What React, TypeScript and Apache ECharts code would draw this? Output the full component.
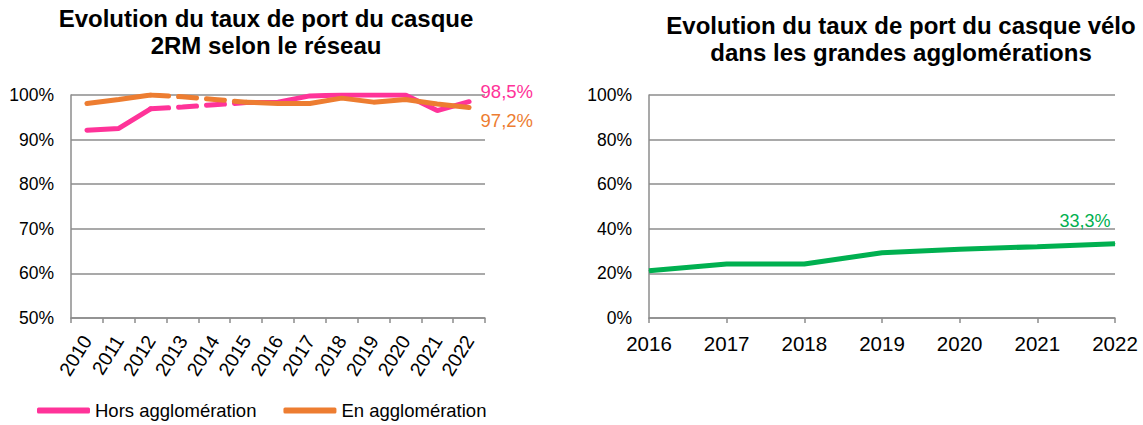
import React, { useEffect, useRef } from "react";
import * as echarts from "echarts";

const yearsLeft = ["2010","2011","2012","2013","2014","2015","2016","2017","2018","2019","2020","2021","2022"];
const horsAgglo = [92.1, 92.5, 96.9, 97.3, 97.8, 98.3, 98.4, 99.8, 100, 100, 100, 96.5, 98.5];
const enAgglo = [98.1, 99.0, 100, 99.6, 99.0, 98.4, 98.1, 98.1, 99.3, 98.4, 99.0, 98.0, 97.2];
const dashedFrom = 2; // 2012
const dashedTo = 5;   // 2015

const yearsRight = ["2016","2017","2018","2019","2020","2021","2022"];
const veloAgglo = [21.2, 24.2, 24.2, 29.3, 30.8, 32.0, 33.3];

const PINK = "#FF3399";
const ORANGE = "#ED7D31";
const GREEN = "#00B050";
const GRID = "#8C8C8C";
const FONT = "Liberation Sans, Arial, sans-serif";

function solidPart(v: number[]) {
  return v.map((x, i) => (i > dashedFrom && i < dashedTo ? null : x));
}
function dashedPart(v: number[]) {
  return v.map((x, i) => (i >= dashedFrom && i <= dashedTo ? x : null));
}
function withLastLabel(v: (number | null)[], label: any) {
  return v.map((x, i) => (i === v.length - 1 ? { value: x, label } : x));
}
const fmt = (n: number) => n.toFixed(1).replace(".", ",") + "%";

export default function App() {
  const ref = useRef<HTMLDivElement>(null);
  useEffect(() => {
    document.body.style.margin = "0";
    const chart = echarts.init(ref.current!, null, { renderer: "svg" });
    const axisLabel = { color: "#000", fontFamily: FONT, fontSize: 17.5 };
    const titleStyle = { fontSize: 24, fontWeight: "bold", color: "#000", lineHeight: 27, fontFamily: FONT };
    chart.setOption({
      animation: false,
      backgroundColor: "#fff",
      textStyle: { fontFamily: FONT },
      title: [
        {
          text: "Evolution du taux de port du casque\n2RM selon le réseau",
          left: 261, top: 0, textAlign: "center", textStyle: titleStyle,
        },
        {
          text: "Evolution du taux de port du casque vélo\ndans les grandes agglomérations",
          left: 896, top: 7, textAlign: "center", textStyle: titleStyle,
        },
      ],
      legend: {
        left: 37, top: 401, padding: 0,
        icon: "roundRect", itemWidth: 53, itemHeight: 6, itemGap: 27,
        textStyle: { fontSize: 18.5, color: "#000", fontFamily: FONT },
        data: ["Hors agglomération", "En agglomération"],
      },
      grid: [
        { left: 71, top: 95, width: 414, height: 223 },
        { left: 649, top: 95, width: 466, height: 223 },
      ],
      xAxis: [
        {
          gridIndex: 0, type: "category", data: yearsLeft, boundaryGap: true,
          axisLine: { lineStyle: { color: GRID, width: 1.5 } },
          axisTick: { show: true, length: 5, lineStyle: { color: GRID, width: 1.5 } },
          axisLabel: { ...axisLabel, fontSize: 19.5, rotate: 58, margin: 19, interval: 0 },
        },
        {
          gridIndex: 1, type: "category", data: yearsRight, boundaryGap: false,
          axisLine: { lineStyle: { color: GRID, width: 1.5 } },
          axisTick: { show: true, length: 5, lineStyle: { color: GRID, width: 1.5 } },
          axisLabel: { ...axisLabel, fontSize: 20.5, margin: 15, interval: 0 },
        },
      ],
      yAxis: [
        {
          gridIndex: 0, type: "value", min: 50, max: 100, interval: 10,
          axisLine: { show: true, lineStyle: { color: GRID, width: 1.5 } },
          axisTick: { show: false },
          splitLine: { lineStyle: { color: GRID, width: 1.5 } },
          axisLabel: { ...axisLabel, margin: 17, formatter: "{value}%" },
        },
        {
          gridIndex: 1, type: "value", min: 0, max: 100, interval: 20,
          axisLine: { show: true, lineStyle: { color: GRID, width: 1.5 } },
          axisTick: { show: false },
          splitLine: { lineStyle: { color: GRID, width: 1.5 } },
          axisLabel: { ...axisLabel, margin: 17, formatter: "{value}%" },
        },
      ],
      series: [
        {
          name: "Hors agglomération", type: "line", xAxisIndex: 0, yAxisIndex: 0,
          data: withLastLabel(solidPart(horsAgglo), {
            show: true, position: "right", offset: [6, -10], color: PINK, fontSize: 18.5, fontFamily: FONT,
            formatter: () => fmt(horsAgglo[horsAgglo.length - 1]),
          }),
          symbol: "circle", symbolSize: 1, showSymbol: true, itemStyle: { color: PINK },
          lineStyle: { width: 5, color: PINK, cap: "round" }, z: 3,
        },
        {
          name: "Hors agglomération (2012-2015)", type: "line", xAxisIndex: 0, yAxisIndex: 0,
          data: dashedPart(horsAgglo),
          symbol: "none", itemStyle: { color: PINK },
          lineStyle: { width: 5, color: PINK, type: [18, 10], cap: "round" }, z: 3,
        },
        {
          name: "En agglomération", type: "line", xAxisIndex: 0, yAxisIndex: 0,
          data: withLastLabel(solidPart(enAgglo), {
            show: true, position: "right", offset: [6, 13], color: ORANGE, fontSize: 18.5, fontFamily: FONT,
            formatter: () => fmt(enAgglo[enAgglo.length - 1]),
          }),
          symbol: "circle", symbolSize: 1, showSymbol: true, itemStyle: { color: ORANGE },
          lineStyle: { width: 5, color: ORANGE, cap: "round" }, z: 4,
        },
        {
          name: "En agglomération (2012-2015)", type: "line", xAxisIndex: 0, yAxisIndex: 0,
          data: dashedPart(enAgglo),
          symbol: "none", itemStyle: { color: ORANGE },
          lineStyle: { width: 5, color: ORANGE, type: [18, 10], cap: "round" }, z: 4,
        },
        {
          name: "Vélo", type: "line", xAxisIndex: 1, yAxisIndex: 1,
          data: withLastLabel(veloAgglo, {
            show: true, position: "top", offset: [-30, -8], color: GREEN, fontSize: 18, fontFamily: FONT,
            formatter: () => fmt(veloAgglo[veloAgglo.length - 1]),
          }),
          symbol: "circle", symbolSize: 1, showSymbol: true, itemStyle: { color: GREEN },
          lineStyle: { width: 5, color: GREEN }, z: 3,
        },
      ],
    });
    return () => chart.dispose();
  }, []);
  return <div ref={ref} style={{ width: 1143, height: 425 }} />;
}
